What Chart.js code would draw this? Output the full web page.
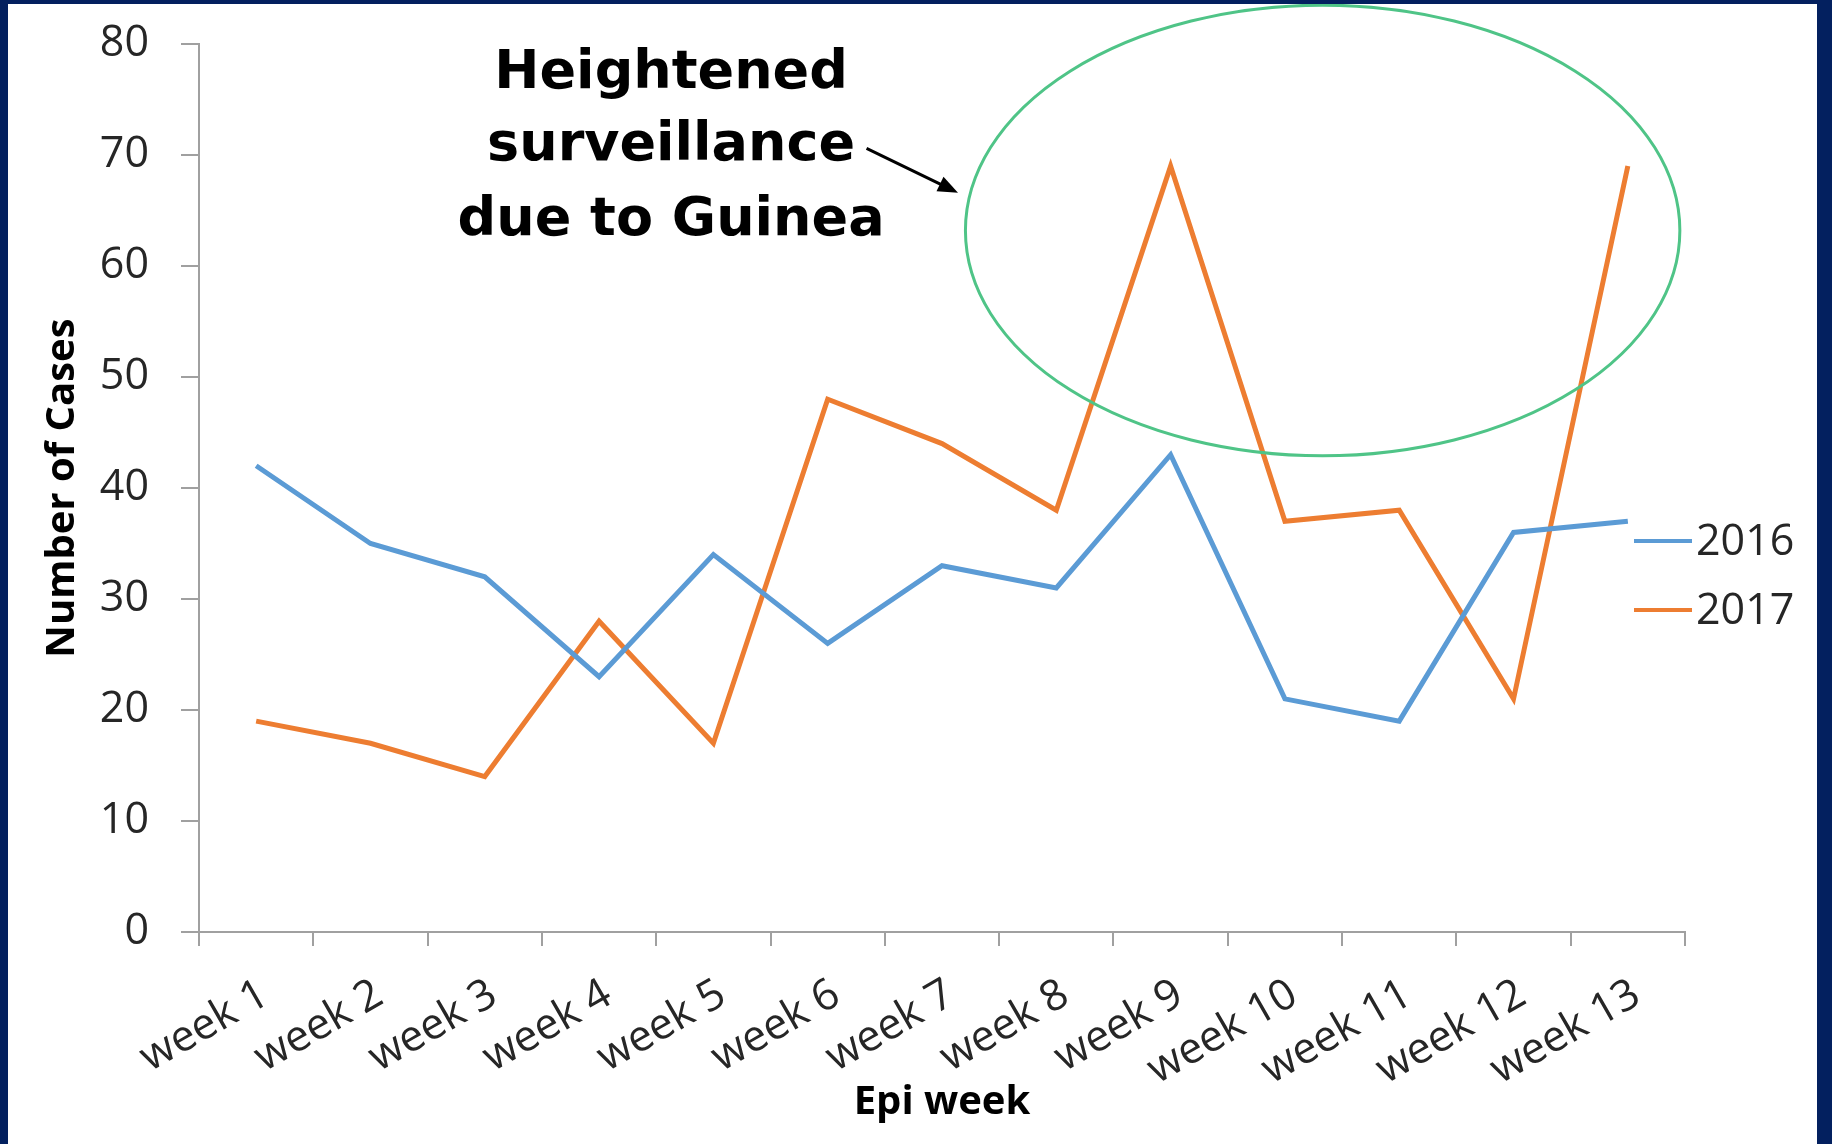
<!DOCTYPE html>
<html>
<head>
<meta charset="utf-8">
<script src="https://cdn.jsdelivr.net/npm/chart.js@4.4.1/dist/chart.umd.min.js"></script>
<style>
  html, body { margin: 0; padding: 0; background: #03205f; width: 1832px; height: 1144px; overflow: hidden; }
  #frame { position: absolute; left: 8px; top: 4px; width: 1809px; height: 1140px; background: #fff; }
</style>
</head>
<body>
<div id="frame"><canvas id="epiChart"></canvas></div>
<script>
const weeks = ['week 1', 'week 2', 'week 3', 'week 4', 'week 5', 'week 6', 'week 7',
  'week 8', 'week 9', 'week 10', 'week 11', 'week 12', 'week 13'];
const cases2016 = [42, 35, 32, 23, 34, 26, 33, 31, 43, 21, 19, 36, 37];
const cases2017 = [19, 17, 14, 28, 17, 48, 44, 38, 69, 37, 38, 21, 69];
const yTicks = [0, 10, 20, 30, 40, 50, 60, 70, 80];

const noteLines = ['Heightened', 'surveillance', 'due to Guinea'];

const axisGrey = '#a0a0a0';
const tickFont = { family: 'Open Sans', size: 43 };

// annotation: text, arrow and ellipse, placed in data units
const notePlugin = {
  id: 'note',
  afterDraw(chart) {
    const ctx = chart.ctx;
    const xs = chart.scales.x, ys = chart.scales.y;
    const px = v => xs.getPixelForValue(0) + v * (xs.getPixelForValue(1) - xs.getPixelForValue(0));
    const py = v => ys.getPixelForValue(v);
    ctx.save();

    // text
    ctx.fillStyle = '#000';
    ctx.font = 'bold 54px "DejaVu Sans"';
    ctx.textAlign = 'center';
    ctx.textBaseline = 'middle';
    const lineVals = [77.3, 70.8, 64.1];
    noteLines.forEach((t, i) => ctx.fillText(t, px(3.63), py(lineVals[i])));

    // arrow
    const x1 = px(5.34), y1 = py(70.6), x2 = px(6.14), y2 = py(66.6);
    const ang = Math.atan2(y2 - y1, x2 - x1);
    ctx.strokeStyle = '#000';
    ctx.lineWidth = 3;
    ctx.beginPath();
    ctx.moveTo(x1, y1);
    ctx.lineTo(x2 - 14 * Math.cos(ang), y2 - 14 * Math.sin(ang));
    ctx.stroke();
    ctx.beginPath();
    ctx.moveTo(x2, y2);
    ctx.lineTo(x2 - 20 * Math.cos(ang) + 8 * Math.sin(ang), y2 - 20 * Math.sin(ang) - 8 * Math.cos(ang));
    ctx.lineTo(x2 - 20 * Math.cos(ang) - 8 * Math.sin(ang), y2 - 20 * Math.sin(ang) + 8 * Math.cos(ang));
    ctx.closePath();
    ctx.fill();

    // ellipse
    const cx = px(9.33), cy = py(63.2);
    const rx = px(3.125) - px(0), ry = py(0) - py(20.3);
    ctx.strokeStyle = '#4fc487';
    ctx.lineWidth = 3;
    ctx.beginPath();
    ctx.ellipse(cx, cy, rx, ry, 0, 0, Math.PI * 2);
    ctx.stroke();

    // legend, drawn to the right of the last point
    const ca = chart.chartArea;
    ctx.font = '43px "Open Sans"';
    ctx.textAlign = 'left';
    chart.data.datasets.forEach((ds, i) => {
      const ly = ca.top + 497 + i * 69;
      ctx.strokeStyle = ds.borderColor;
      ctx.lineWidth = 4;
      ctx.beginPath();
      ctx.moveTo(ca.right - 51, ly);
      ctx.lineTo(ca.right + 7, ly);
      ctx.stroke();
      ctx.fillStyle = '#262626';
      ctx.fillText(ds.label, ca.right + 11, ly + 2);
    });
    ctx.restore();
  }
};

new Chart(document.getElementById('epiChart'), {
  type: 'line',
  data: {
    labels: weeks,
    datasets: [
      { label: '2016', data: cases2016, borderColor: '#5b9bd5', backgroundColor: '#5b9bd5', borderWidth: 5, pointRadius: 0, tension: 0 },
      { label: '2017', data: cases2017, borderColor: '#ed7d31', backgroundColor: '#ed7d31', borderWidth: 5, pointRadius: 0, tension: 0 }
    ]
  },
  options: {
    responsive: true,
    maintainAspectRatio: false,
    animation: false,
    layout: { padding: { top: 40, right: 132, left: 0, bottom: 0 } },
    plugins: {
      legend: { display: false },
      tooltip: { enabled: false }
    },
    scales: {
      x: {
        offset: true,
        grid: { offset: true, drawOnChartArea: false, drawTicks: true, tickLength: 14, color: axisGrey, lineWidth: 2 },
        border: { color: axisGrey, width: 2 },
        ticks: { minRotation: 30, maxRotation: 30, padding: 23, labelOffset: 9, autoSkip: false, font: tickFont, color: '#262626' },
        title: { display: true, text: 'Epi week', color: '#000', font: { family: 'Open Sans', size: 40, weight: 'bold' }, padding: { top: 0, bottom: 17 } },
        afterFit(scale) { scale.height = 212; }
      },
      y: {
        min: 0,
        max: 80,
        afterBuildTicks(scale) { scale.ticks = yTicks.map(v => ({ value: v })); },
        grid: { drawOnChartArea: false, drawTicks: true, tickLength: 18, color: axisGrey, lineWidth: 2 },
        border: { color: axisGrey, width: 2 },
        ticks: { padding: 32, font: tickFont, color: '#262626' },
        title: { display: true, text: 'Number of Cases', color: '#000', font: { family: 'Open Sans', size: 40, weight: 'bold' }, padding: { top: 31, bottom: 0 } },
        afterFit(scale) { scale.width = 191; scale.paddingTop = 0; scale.paddingBottom = 0; }
      }
    }
  },
  plugins: [notePlugin]
});
</script>
</body>
</html>
